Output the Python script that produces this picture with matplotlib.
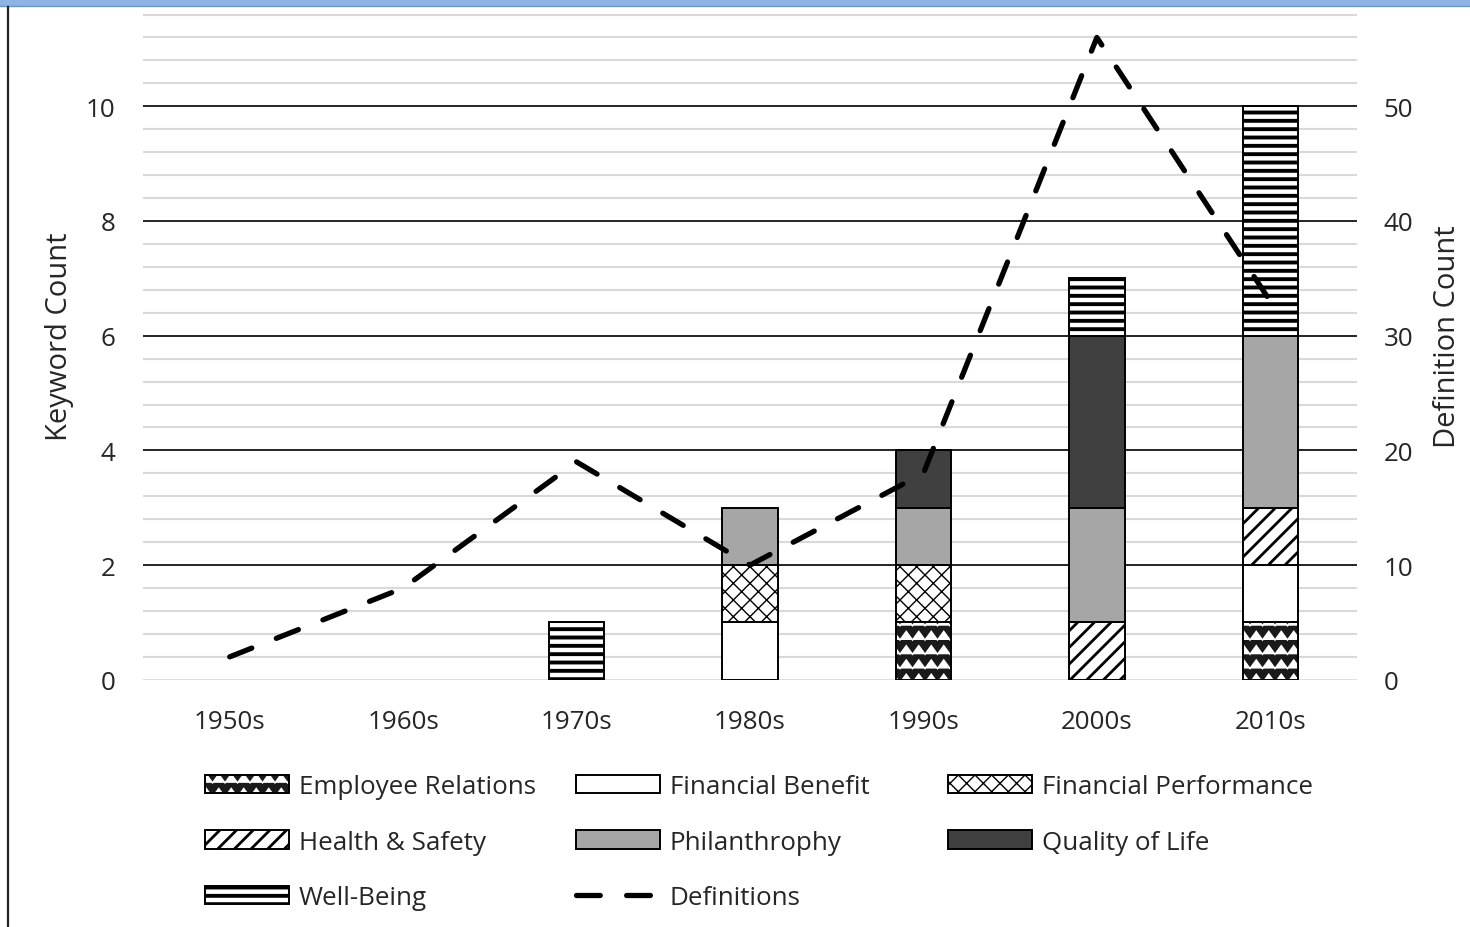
import warnings
import numpy as np
import matplotlib
matplotlib.use('Agg')
import matplotlib.pyplot as plt
import matplotlib.hatch as mhatch
from matplotlib.path import Path
from matplotlib.lines import Line2D
from matplotlib.patches import Rectangle

warnings.filterwarnings('ignore')

# dados
decadas = ['1950s', '1960s', '1970s', '1980s', '1990s', '2000s', '2010s']
employee_relations = [0, 0, 0, 0, 1, 0, 1]
financial_benefit = [0, 0, 0, 1, 0, 0, 1]
financial_performance = [0, 0, 0, 1, 1, 0, 0]
health_safety = [0, 0, 0, 0, 0, 1, 1]
philanthropy = [0, 0, 0, 1, 1, 2, 3]
quality_of_life = [0, 0, 0, 0, 1, 3, 0]
well_being = [0, 0, 1, 0, 0, 1, 4]
definitions = [2, 8, 19, 10, 18, 56, 33]


# hatch em zigue-zague (letra 'z')
class ZigZagHatch(mhatch.HatchPatternBase):
    def __init__(self, hatch, density):
        self.num_rows = int(hatch.count('z') * density * 1.2)
        self.pts = 2 * 8 + 1
        self.num_vertices = self.num_rows * self.pts

    def set_vertices_and_codes(self, vertices, codes):
        step = 1.0 / self.num_rows
        xs = np.linspace(0, 1, self.pts)
        amp = np.where(np.arange(self.pts) % 2 == 0, -0.3, 0.3) * step
        for i in range(self.num_rows):
            a = i * self.pts
            vertices[a:a + self.pts, 0] = xs
            vertices[a:a + self.pts, 1] = (i + 0.5) * step + amp
            codes[a:a + self.pts] = Path.LINETO
            codes[a] = Path.MOVETO


mhatch._hatch_types.append(ZigZagHatch)

# espessura do hatch por padrão
hatch_lw = {'z': 1.1, 'xx': 1.0, '//': 2.0, '--': 2.8}
plt.rcParams['hatch.linewidth'] = 1.6

plt.rcParams['font.family'] = ['Open Sans', 'DejaVu Sans']
cor_texto = '#262626'
fs = 18.7
fs_label = 21

fig = plt.figure(figsize=(14.7, 9.28), dpi=100)
ax = fig.add_axes([143 / 1470, 1 - 680.8 / 928, (1357 - 143) / 1470, 0.7416])

x = np.arange(len(decadas))
w = 0.32
base = np.zeros(len(decadas))


def sem_zero(v):
    v = np.array(v, dtype=float)
    return np.where(v == 0, np.nan, v)


def ajusta_hatch(patches):
    for p in patches:
        h = p.get_hatch()
        if h in hatch_lw and hasattr(p, 'set_hatch_linewidth'):
            p.set_hatch_linewidth(hatch_lw[h])


def barra(valores, **kw):
    b = ax.bar(x, sem_zero(valores), w, bottom=base, zorder=2, **kw)
    ajusta_hatch(b.patches)
    return b


# Employee Relations: fundo preto com zigue-zague branco
er_fill = barra(employee_relations, color='#1a1a1a', edgecolor='white', hatch='z', linewidth=0)
er_line = barra(employee_relations, fill=False, edgecolor='black', linewidth=1.4)
base = base + employee_relations

fb = barra(financial_benefit, color='white', edgecolor='black', linewidth=1.4)
base = base + financial_benefit

fp = barra(financial_performance, color='white', edgecolor='black', hatch='xx', linewidth=1.4)
base = base + financial_performance

hs = barra(health_safety, color='white', edgecolor='black', hatch='//', linewidth=1.4)
base = base + health_safety

ph = barra(philanthropy, color='#a6a6a6', edgecolor='black', linewidth=1.4)
base = base + philanthropy

ql = barra(quality_of_life, color='#404040', edgecolor='black', linewidth=1.4)
base = base + quality_of_life

wb = barra(well_being, color='white', edgecolor='black', hatch='--', linewidth=1.4)
base = base + well_being

ax.set_xlim(-0.5, len(decadas) - 0.5)
ax.set_ylim(0, 12)
ax.set_xticks(x)
ax.set_xticklabels(decadas)
ax.set_yticks(np.arange(0, 11, 2))
ax.set_yticks(np.arange(0, 12.01, 0.4), minor=True)
ax.tick_params(axis='both', which='both', length=0, labelsize=fs, labelcolor=cor_texto)
ax.tick_params(axis='y', pad=20)
ax.tick_params(axis='x', pad=21)
ax.grid(axis='y', which='minor', color='#d9d9d9', linewidth=1.5, zorder=0)
ax.grid(axis='y', which='major', color='black', linewidth=1.2, zorder=1)
ax.set_axisbelow(True)
ax.get_ygridlines()[0].set_color('#d9d9d9')
for s in ax.spines.values():
    s.set_visible(False)
ax.set_ylabel('Keyword Count', fontsize=fs_label, color=cor_texto)
ax.yaxis.set_label_coords(-0.057, 0.5)

# eixo secundario
ax2 = ax.twinx()
ax2.set_ylim(0, 60)
ax2.set_yticks(np.arange(0, 51, 10))
ax2.plot(x, definitions, color='black', linewidth=3.8, linestyle=(0, (4.5, 5)),
         dash_capstyle='round', zorder=5)
ax2.tick_params(axis='y', length=0, labelsize=fs, labelcolor=cor_texto, pad=19)
for s in ax2.spines.values():
    s.set_visible(False)
ax2.set_ylabel('Definition Count', fontsize=fs_label, color=cor_texto)
ax2.yaxis.set_label_coords(1.0626, 0.5)

# legenda em tres colunas
linha_def = Line2D([], [], color='black', linewidth=3.8, linestyle=(0, (4.5, 5)),
                   dash_capstyle='round')
colunas = [
    ([(er_fill, er_line), hs, wb], ['Employee Relations', 'Health & Safety', 'Well-Being']),
    ([fb, ph, linha_def], ['Financial Benefit', 'Philanthrophy', 'Definitions']),
    ([fp, ql], ['Financial Performance', 'Quality of Life']),
]
xs_leg = [205 / 1470, 576 / 1470, 948 / 1470]
for (hand, lab), xl in zip(colunas, xs_leg):
    leg = fig.legend(hand, lab, loc='upper left', bbox_to_anchor=(xl, 1 - 775 / 928),
                     frameon=False, borderpad=0, borderaxespad=0, fontsize=fs,
                     handlelength=3.25, handleheight=0.72, handletextpad=0.36,
                     labelspacing=1.18, labelcolor=cor_texto)
    ajusta_hatch(leg.findobj(Rectangle))

# moldura da captura
fig.add_artist(Rectangle((0, 1 - 7 / 928), 1, 7 / 928, transform=fig.transFigure,
                         facecolor='#8db4e2', edgecolor='none', zorder=10))
fig.add_artist(Line2D([0, 1], [1 - 7 / 928] * 2, transform=fig.transFigure,
                      color='#6a95cc', linewidth=1, zorder=11))
fig.add_artist(Line2D([8 / 1470] * 2, [0, 1 - 8 / 928], transform=fig.transFigure,
                      color='#222222', linewidth=1.6, zorder=11))

fig.savefig('out.png', dpi=100)
